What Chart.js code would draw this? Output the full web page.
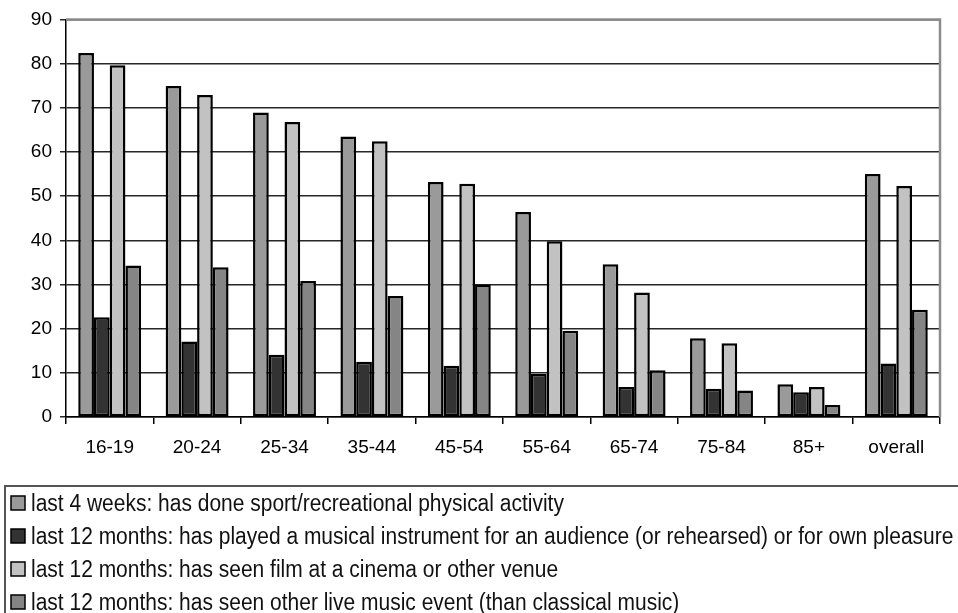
<!DOCTYPE html>
<html>
<head>
<meta charset="utf-8">
<title>Participation by age group</title>
<script src="https://cdn.jsdelivr.net/npm/chart.js@4/dist/chart.umd.min.js"></script>
<style>
  html, body { margin: 0; padding: 0; background: #ffffff; overflow: hidden; }
  #wrap { width: 958px; height: 613px; position: relative; }
</style>
</head>
<body>
<div id="wrap"><canvas id="chart" width="958" height="613"></canvas></div>
<script>
// Age groups along the x axis
const categories = ['16-19', '20-24', '25-34', '35-44', '45-54', '55-64', '65-74', '75-84', '85+', 'overall'];

// Percentages per age group
const sport      = [82.4, 74.9, 68.9, 63.5, 53.2, 46.4, 34.6, 17.8, 7.4, 55.0];
const instrument = [22.6, 17.1, 14.1, 12.5, 11.6, 9.8, 6.8, 6.4, 5.6, 12.1];
const film       = [79.6, 72.9, 66.8, 62.4, 52.8, 39.8, 28.2, 16.7, 6.8, 52.3];
const liveMusic  = [34.3, 33.9, 30.8, 27.4, 30.0, 19.5, 10.6, 6.0, 2.7, 24.3];

const seriesLabels = [
  'last 4 weeks: has done sport/recreational physical activity',
  'last 12 months: has played a musical instrument for an audience (or rehearsed) or for own pleasure',
  'last 12 months: has seen film at a cinema or other venue',
  'last 12 months: has seen other live music event (than classical music)'
];

const yTicks = [0, 10, 20, 30, 40, 50, 60, 70, 80, 90];

const seriesColors = ['#9a9a9a', '#333333', '#c2c2c2', '#858585'];
const FONT = "'Liberation Sans', Arial, sans-serif";
const TEXT = '#000000';

// Grey frame on the top and right edges of the plot area
const frame = {
  id: 'frame',
  afterDatasetsDraw(chart) {
    const { ctx, chartArea: a } = chart;
    ctx.save();
    ctx.strokeStyle = '#8c8c8c';
    ctx.lineWidth = 2.5;
    ctx.beginPath();
    ctx.moveTo(a.left, a.top);
    ctx.lineTo(a.right, a.top);
    ctx.lineTo(a.right, a.bottom);
    ctx.stroke();
    ctx.restore();
  }
};

// Boxed legend below the chart, one series per row
const boxLegend = {
  id: 'boxLegend',
  afterDraw(chart) {
    const ctx = chart.ctx;
    ctx.save();
    ctx.strokeStyle = '#555555';
    ctx.lineWidth = 2;
    ctx.strokeRect(5, 486, 1000, 200);

    const fontSize = 23;
    ctx.font = fontSize + 'px ' + FONT;
    const w1 = ctx.measureText(chart.data.datasets[0].label).width;
    const w2 = ctx.measureText(chart.data.datasets[1].label).width;
    const sx = (536 / w1 + 917 / w2) / 2;

    chart.data.datasets.forEach((ds, i) => {
      const base = 511 + i * 33;
      ctx.fillStyle = ds.backgroundColor;
      ctx.fillRect(11, base - 15, 14, 14);
      ctx.strokeStyle = '#000000';
      ctx.lineWidth = 1.5;
      ctx.strokeRect(11, base - 15, 14, 14);

      ctx.save();
      ctx.translate(31, base);
      ctx.scale(sx, 1);
      ctx.fillStyle = '#111111';
      ctx.textBaseline = 'alphabetic';
      ctx.textAlign = 'left';
      ctx.fillText(ds.label, 0, 0);
      ctx.restore();
    });
    ctx.restore();
  }
};

const values = [sport, instrument, film, liveMusic];

new Chart(document.getElementById('chart'), {
  type: 'bar',
  data: {
    labels: categories,
    datasets: values.map((v, i) => ({
      label: seriesLabels[i],
      data: v,
      backgroundColor: seriesColors[i],
      borderColor: '#000000',
      borderWidth: 2.5,
      borderSkipped: false,
      categoryPercentage: 0.72,
      barPercentage: 1.0
    }))
  },
  options: {
    responsive: false,
    animation: false,
    layout: { padding: { top: 18, right: 18, bottom: 156, left: 0 } },
    plugins: { legend: { display: false }, tooltip: { enabled: false } },
    scales: {
      x: {
        offset: true,
        grid: { offset: true, drawOnChartArea: false, drawTicks: true, tickLength: 7, color: '#000000', lineWidth: 1.5 },
        border: { display: true, color: '#000000', width: 1.5 },
        ticks: { color: TEXT, font: { family: FONT, size: 19 }, padding: 12, maxRotation: 0 },
        afterFit(s) { s.height = 40; }
      },
      y: {
        min: 0,
        max: 90,
        afterBuildTicks(s) { s.ticks = yTicks.map(v => ({ value: v })); },
        grid: {
          color: '#262626',
          lineWidth: 1.5,
          tickLength: 6
        },
        border: { display: true, color: '#000000', width: 1.5 },
        ticks: { color: TEXT, font: { family: FONT, size: 19 }, padding: 8 },
        afterFit(s) { s.width = 66; }
      }
    }
  },
  plugins: [frame, boxLegend]
});
</script>
</body>
</html>
